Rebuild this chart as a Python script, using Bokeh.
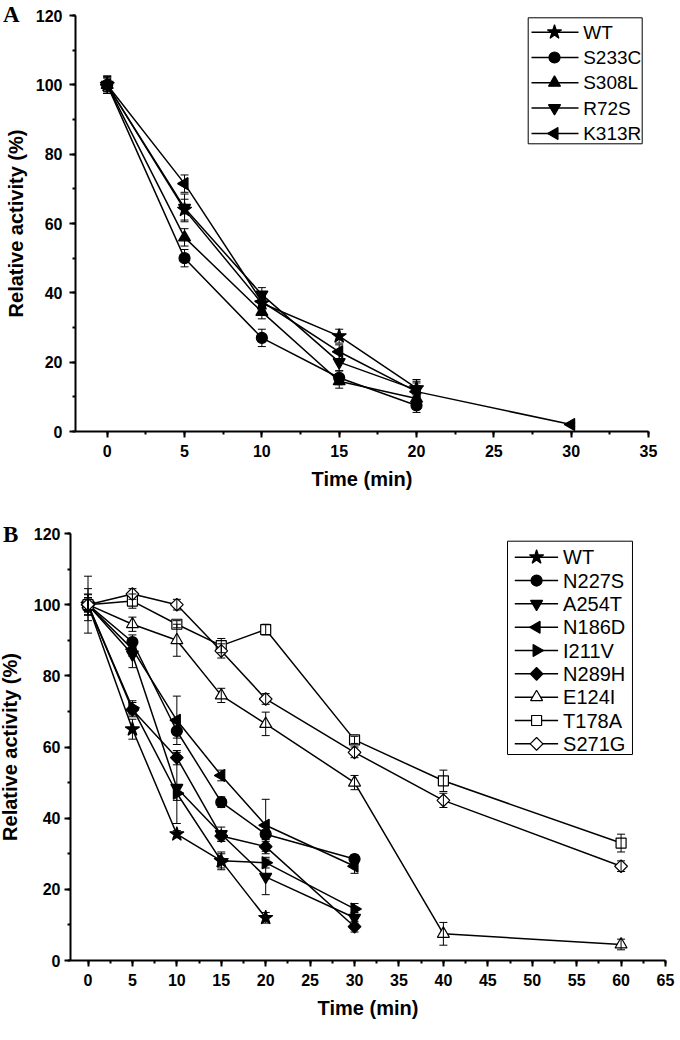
import numpy as np
from bokeh.plotting import figure
from bokeh.models import (ColumnDataSource, Whisker, TeeHead, Range1d,
                          SingleIntervalTicker, Div)
from bokeh.core.properties import value
from bokeh.layouts import column
from bokeh.embed import file_html
from bokeh.resources import INLINE

# ---------------- Panel A data ----------------
A_TIME = [0, 5, 10, 15, 20]
A_TIME_K313R = [0, 5, 10, 15, 20, 30]
A_WT = [100, 64, 37, 27.5, 12.5]
A_WT_ERR = [2.5, 3, 2, 2, 2]
A_S233C = [100, 50, 27, 15.5, 7.5]
A_S233C_ERR = [2.5, 2.5, 2.5, 2, 2]
A_S308L = [100, 56, 34.5, 14.5, 9.5]
A_S308L_ERR = [2, 2.5, 2, 2, 2]
A_R72S = [100, 64.5, 39.5, 20, 12]
A_R72S_ERR = [2, 4, 2, 2.5, 2]
A_K313R = [100, 71.5, 37.5, 23, 11.5, 2]
A_K313R_ERR = [2.5, 2.5, 2, 2, 3.5, 0.5]

# ---------------- Panel B data ----------------
B_T5 = [0, 5, 10, 15, 20]
B_T6 = [0, 5, 10, 15, 20, 30]
B_T8 = [0, 5, 10, 15, 20, 30, 40, 60]
B_WT = [100, 65, 35.5, 28, 12]
B_WT_ERR = [2, 2.8, 1, 2, 1.5]
B_N227S = [100, 89.5, 64.5, 44.5, 35.5, 28.5]
B_N227S_ERR = [4.5, 2, 2, 1.5, 2, 1.2]
B_A254T = [100, 86, 48.5, 35.5, 23.5, 12]
B_A254T_ERR = [1.5, 3.7, 10, 2, 5, 1.5]
B_N186D = [100, 87.5, 67.5, 52, 38, 26.5]
B_N186D_ERR = [2.8, 2, 6.8, 1.5, 7.3, 2]
B_I211V = [100, 71, 47, 28, 27.5, 14.5]
B_I211V_ERR = [2, 2, 2, 2.5, 1.5, 1.5]
B_N289H = [100, 70.5, 57, 35, 32, 9.5]
B_N289H_ERR = [2, 2, 2, 1.5, 2, 1.5]
B_E124I = [100, 94.5, 90, 74.5, 66.5, 50, 7.5, 4.5]
B_E124I_ERR = [8, 2, 4.5, 2, 3.3, 2, 3.2, 1.5]
B_T178A = [100, 101, 94.5, 88.5, 93, 62, 50.5, 33]
B_T178A_ERR = [3, 2, 1, 2, 1.5, 1, 3, 2.5]
B_S271G = [100, 103, 100, 87, 73.5, 58.5, 45, 26.5]
B_S271G_ERR = [2, 1.5, 1.5, 2, 1.5, 1.5, 2, 1.5]

LEFT = np.pi / 2
RIGHT = -np.pi / 2
DIAM = np.pi / 4

SERIES_A = [
    ("WT", A_TIME, A_WT, A_WT_ERR, "star", 0, 15, "black"),
    ("S233C", A_TIME, A_S233C, A_S233C_ERR, "circle", 0, 11, "black"),
    ("S308L", A_TIME, A_S308L, A_S308L_ERR, "triangle", 0, 12, "black"),
    ("R72S", A_TIME, A_R72S, A_R72S_ERR, "inverted_triangle", 0, 12, "black"),
    ("K313R", A_TIME_K313R, A_K313R, A_K313R_ERR, "triangle", LEFT, 12, "black"),
]
SERIES_B = [
    ("WT", B_T5, B_WT, B_WT_ERR, "star", 0, 15, "black"),
    ("N227S", B_T6, B_N227S, B_N227S_ERR, "circle", 0, 11, "black"),
    ("A254T", B_T6, B_A254T, B_A254T_ERR, "inverted_triangle", 0, 12, "black"),
    ("N186D", B_T6, B_N186D, B_N186D_ERR, "triangle", LEFT, 12, "black"),
    ("I211V", B_T6, B_I211V, B_I211V_ERR, "triangle", RIGHT, 12, "black"),
    ("N289H", B_T6, B_N289H, B_N289H_ERR, "square", DIAM, 9, "black"),
    ("E124I", B_T8, B_E124I, B_E124I_ERR, "triangle", 0, 12, "white"),
    ("T178A", B_T8, B_T178A, B_T178A_ERR, "square", 0, 10, "white"),
    ("S271G", B_T8, B_S271G, B_S271G_ERR, "square", DIAM, 9, "white"),
]

FONT = "Liberation Sans"


def make_panel(series, xr, frame_w, frame_h, bl, br, bt, bb, leg,
               x_stand, y_stand):
    x0, x1 = xr
    y0, y1 = 0, 120
    p = figure(frame_width=frame_w, frame_height=frame_h,
               x_range=Range1d(x0, x1), y_range=Range1d(y0, y1),
               output_backend="svg", toolbar_location=None,
               min_border_left=bl, min_border_right=br,
               min_border_top=bt, min_border_bottom=bb)
    p.outline_line_color = None
    p.xgrid.visible = False
    p.ygrid.visible = False
    p.xaxis.ticker = SingleIntervalTicker(interval=5, num_minor_ticks=2)
    p.yaxis.ticker = SingleIntervalTicker(interval=20, num_minor_ticks=2)
    for ax, (ts, ls) in ((p.xaxis, x_stand), (p.yaxis, y_stand)):
        ax.axis_line_width = 2
        ax.major_tick_line_width = 2
        ax.minor_tick_line_width = 2
        ax.major_tick_out = 6
        ax.major_tick_in = 0
        ax.minor_tick_out = 3
        ax.minor_tick_in = 0
        ax.major_label_text_font = FONT
        ax.major_label_text_font_style = "bold"
        ax.major_label_text_font_size = "16px"
        ax.major_label_text_color = "black"
        ax.axis_label_text_font = FONT
        ax.axis_label_text_font_style = "bold"
        ax.axis_label_text_font_size = "20px"
        ax.axis_label_text_color = "black"
        ax.major_label_standoff = ts
        ax.axis_label_standoff = ls
    p.xaxis.axis_label = "Time (min)"
    p.yaxis.axis_label = "Relative activity (%)"

    # helpers: frame pixel offsets -> data coordinates
    def dx(px):
        return x0 + px / frame_w * (x1 - x0)

    def dy(py):
        return y1 - py / frame_h * (y1 - y0)

    # legend box (drawn first, underneath legend glyphs)
    p.quad(left=[dx(leg["left"])], right=[dx(leg["right"])],
           top=[dy(leg["top"])], bottom=[dy(leg["bottom"])],
           fill_color="white", line_color="black", line_width=1)

    for name, t, v, e, marker, ang, size, fill in series:
        src = ColumnDataSource(dict(t=t, v=v,
                                    lo=[a - b for a, b in zip(v, e)],
                                    hi=[a + b for a, b in zip(v, e)]))
        p.line("t", "v", source=src, line_color="black", line_width=1.5)
        w = Whisker(source=src, base="t", upper="hi", lower="lo",
                    line_color="black", line_width=1,
                    upper_head=TeeHead(size=8, line_width=1, line_color="black"),
                    lower_head=TeeHead(size=8, line_width=1, line_color="black"))
        w.level = "overlay"
        p.add_layout(w)
        p.scatter("t", "v", source=src, marker=marker, angle=ang,
                  size=size, fill_color=fill, line_color="black",
                  line_width=1.2)

    # legend entries
    n = len(series)
    rows_y = [dy(leg["row0"] + i * leg["step"]) for i in range(n)]
    p.segment(x0=[dx(leg["line0"])] * n, x1=[dx(leg["line1"])] * n,
              y0=rows_y, y1=rows_y, line_color="black", line_width=1.5)
    for i, (name, t, v, e, marker, ang, size, fill) in enumerate(series):
        p.scatter(x=[dx(leg["mark"])], y=[rows_y[i]], marker=marker,
                  angle=ang, size=size, fill_color=fill, line_color="black",
                  line_width=1.2)
    p.text(x=[dx(leg["text"])] * n, y=rows_y, text=[s[0] for s in series],
           text_font=value(FONT), text_font_size=leg["font"],
           text_baseline="middle", text_align="left", text_color="black")
    return p


def letter_div(letter, top):
    html = ('<span style="font-family:\'Liberation Serif\';font-weight:bold;'
            'font-size:23px;line-height:23px;color:black">%s</span>' % letter)
    return Div(text=html, width=26, height=26,
               styles={"position": "absolute", "left": "3px",
                       "top": "%dpx" % top, "margin": "0", "padding": "0"})


LEG_A = dict(left=452.7, right=566.7, top=2.3, bottom=128.3,
             row0=16.7, step=25.3, line0=456, line1=503, mark=479,
             text=507.7, font="19px")
LEG_B = dict(left=440.7, right=566.7, top=7.7, bottom=221,
             row0=23.7, step=23.33, line0=448, line1=491.7, mark=470,
             text=496.7, font="20px")

pA = make_panel(SERIES_A, (-2.05, 35), 573, 416, 75, 20, 15, 70,
                LEG_A, (7, 8), (7, 6))
pB = make_panel(SERIES_B, (-1.97, 65), 600, 427, 75, 10, 32, 60,
                LEG_B, (7, 8), (4, 10))
pB.styles = {"margin-left": "-5px"}

layout = column(pA, pB, letter_div("A", 3), letter_div("B", 523), spacing=0)
open("out.html", "w").write(file_html(layout, INLINE))
